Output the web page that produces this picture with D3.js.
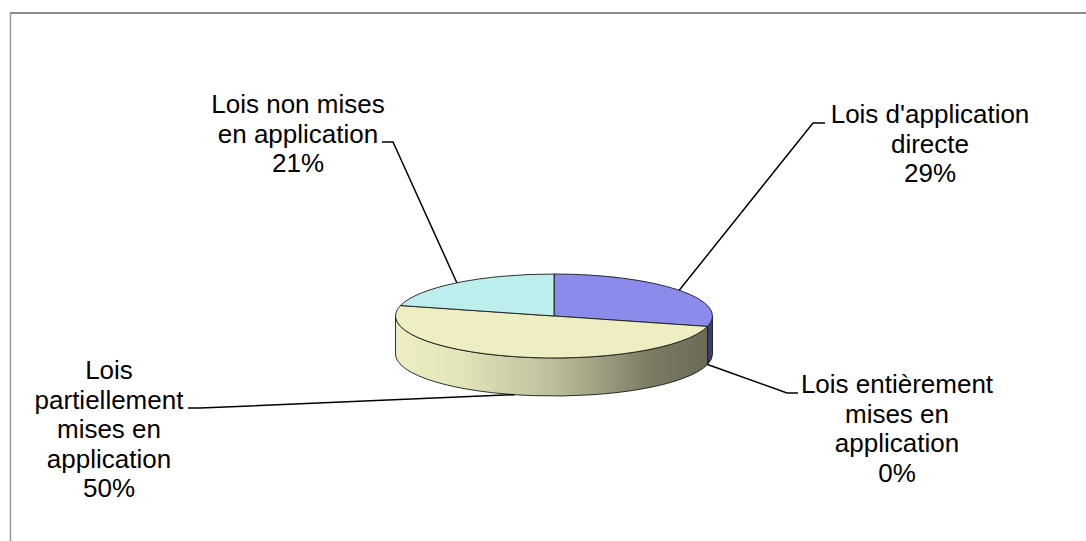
<!DOCTYPE html>
<html>
<head>
<meta charset="utf-8">
<script src="https://cdn.jsdelivr.net/npm/d3@7"></script>
<style>
  body { margin: 0; background: #fff; }
  svg { display: block; }
  text { font-family: Arial, "Liberation Sans", sans-serif; font-size: 26px; fill: #000; }
</style>
</head>
<body>
<svg id="chart" width="1086" height="541"></svg>
<script>
// data (clockwise from 12 o'clock)
const categories = [
  "Lois d'application directe",
  "Lois entièrement mises en application",
  "Lois partiellement mises en application",
  "Lois non mises en application"
];
const percents = [29, 0, 50, 21];
const labelLines = [
  ["Lois d'application", "directe"],
  ["Lois entièrement", "mises en", "application"],
  ["Lois", "partiellement", "mises en", "application"],
  ["Lois non mises", "en application"]
];
const topColors = ["#8b8bec", "#9999cc", "#eeeec2", "#bdeeee"];

// layout
const width = 1086, height = 541;
const cx = 554, cy = 316, rx = 158.5, ry = 42, depth = 38;
const lineHeight = 29.5;
// label block (first baseline) and leader line elbow / end
const labelLayout = [
  { x: 930, y: 123, elbow: [813, 123], end: [825, 123] },
  { x: 897, y: 393, elbow: [787, 393], end: [798, 393] },
  { x: 109, y: 379, elbow: [200, 408], end: [188, 408] },
  { x: 298, y: 113, elbow: [393, 142], end: [382, 142] }
];

const svg = d3.select("#chart");

//frame (only top and left edges are visible in the picture)
svg.append("line").attr("x1", 10).attr("y1", 13).attr("x2", width).attr("y2", 13)
  .attr("stroke", "#666").attr("stroke-width", 1.5);
svg.append("line").attr("x1", 10.5).attr("y1", 13).attr("x2", 10.5).attr("y2", height)
  .attr("stroke", "#999").attr("stroke-width", 1.5);

const pie = d3.pie().sort(null).value((d) => d);
const arcs = pie(percents);

const topPt = (a) => [cx + rx * Math.sin(a), cy - ry * Math.cos(a)];
const botPt = (a) => [cx + rx * Math.sin(a), cy - ry * Math.cos(a) + depth];

//side gradients, darker towards the right
const defs = svg.append("defs");
const shade = [[0, 1], [0.2, 0.96], [0.5, 0.8], [0.8, 0.52], [1, 0.44]];
topColors.forEach((c, i) => {
  const g = defs.append("linearGradient")
    .attr("id", "side" + i)
    .attr("gradientUnits", "userSpaceOnUse")
    .attr("x1", cx - rx).attr("x2", cx + rx).attr("y1", 0).attr("y2", 0);
  const base = d3.rgb(c);
  shade.forEach(([o, f]) => {
    g.append("stop").attr("offset", o)
      .attr("stop-color", d3.rgb(base.r * f, base.g * f, base.b * f).formatHex());
  });
});

//sides (front half only)
const sides = svg.append("g");
arcs.forEach((d, i) => {
  const a0 = Math.max(d.startAngle, Math.PI / 2);
  const a1 = Math.min(d.endAngle, Math.PI * 1.5);
  if (a1 <= a0) return;
  const large = a1 - a0 > Math.PI ? 1 : 0;
  const t0 = topPt(a0), t1 = topPt(a1), b0 = botPt(a0), b1 = botPt(a1);
  const path = `M${t0}A${rx},${ry} 0 ${large} 1 ${t1}L${b1}A${rx},${ry} 0 ${large} 0 ${b0}Z`;
  sides.append("path")
    .attr("d", path)
    .attr("fill", `url(#side${i})`)
    .attr("stroke", "#1a1a1a")
    .attr("stroke-width", 0.9)
    .attr("stroke-linejoin", "round");
});

//tops
const tops = svg.append("g");
arcs.forEach((d, i) => {
  if (d.endAngle - d.startAngle <= 0) return;
  const large = d.endAngle - d.startAngle > Math.PI ? 1 : 0;
  const s = topPt(d.startAngle), e = topPt(d.endAngle);
  tops.append("path")
    .attr("d", `M${cx},${cy}L${s}A${rx},${ry} 0 ${large} 1 ${e}Z`)
    .attr("fill", topColors[i])
    .attr("stroke", "#1a1a1a")
    .attr("stroke-width", 0.9)
    .attr("stroke-linejoin", "round");
});

//leader lines
arcs.forEach((d, i) => {
  const mid = (d.startAngle + d.endAngle) / 2;
  const anchor = Math.cos(mid) < 0 ? botPt(mid) : topPt(mid);
  const L = labelLayout[i];
  svg.append("path")
    .attr("d", d3.line()([anchor, L.elbow, L.end]))
    .attr("fill", "none")
    .attr("stroke", "#000")
    .attr("stroke-width", 1.5);
});

//labels
arcs.forEach((d, i) => {
  const L = labelLayout[i];
  const lines = labelLines[i].concat([percents[i] + "%"]);
  const t = svg.append("text").attr("text-anchor", "middle");
  lines.forEach((s, k) => {
    t.append("tspan").attr("x", L.x).attr("y", L.y + k * lineHeight).text(s);
  });
});
</script>
</body>
</html>
